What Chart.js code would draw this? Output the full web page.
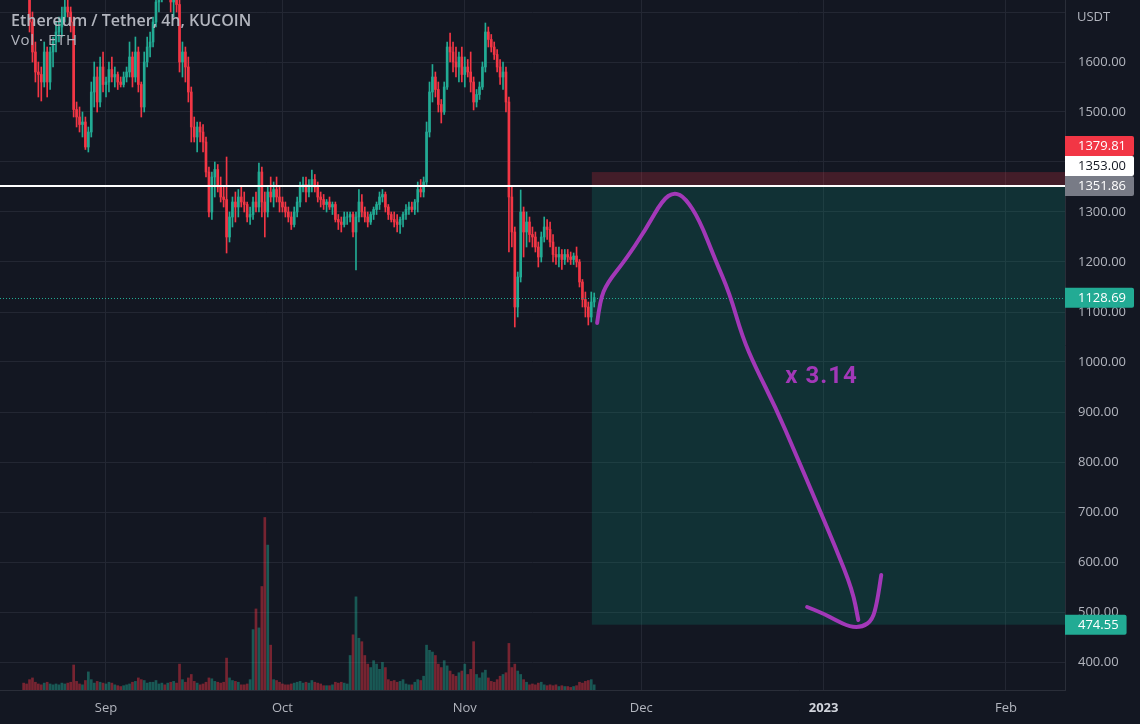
<!DOCTYPE html>
<html><head><meta charset="utf-8">
<script src="https://cdn.jsdelivr.net/npm/chart.js@4.4.0/dist/chart.umd.min.js"></script>
<style>html,body{margin:0;padding:0;background:#131722;overflow:hidden}</style>
</head><body>
<canvas id="c" width="1140" height="724"></canvas>
<script>
// ---- data (time in days from 1 Sep 2022, 12h candles) ----
const candleStart = -14;   // 18 Aug 2022 00:00
const opens = [
1880,1850,1845,1680,1620,1580,1575,1560,1620,1560,1620,1640,1660,1670,1690,1710,1700,1680,1505,1490,1475,1480,1430,1460,1540,1570,1520,1590,
1555,1560,1585,1570,1575,1560,1555,1570,1580,1610,1570,1620,1555,1510,1600,1630,1640,1680,1720,1740,1760,1750,1770,1720,1730,1715,1600,1620,1590,1540,1470,1450,1470,1460,1440,1380,1300,1370,1385,1350,1330,1325,1250,1290,1320,1310,1330,1320,1315,1290,1295,1320,1310,1380,1320,1300,1340,1330,1345,1330,
1320,1310,1300,1290,1275,1300,1320,1350,1355,1340,1355,1365,1350,1330,1325,1315,1320,1310,1315,1285,1280,1275,1290,1290,1295,1260,1290,1320,1300,1290,1280,1295,1305,1315,1330,1335,1310,1295,1285,1280,1275,1285,1295,1305,1310,1305,1320,1345,1340,1360,1460,1540,1570,1545,1515,1500,1550,1630,1620,1600,1590,1610,
1575,1590,1580,1560,1520,1535,1550,1590,1660,1645,1630,1615,1590,1570,1580,1520,1330,1260,1110,1170,1300,1260,1280,1255,1250,1230,1210,1250,1270,1265,1240,1215,1210,1215,1205,1215,1210,1205,1212,1200,1160,1125,1110,1090,1120];
const highs = [
1890,1870,1850,1700,1640,1600,1590,1640,1630,1630,1650,1680,1690,1710,1730,1740,1710,1690,1520,1510,1500,1490,1470,1560,1600,1590,1610,1620,
1570,1600,1610,1590,1580,1570,1580,1590,1640,1620,1650,1630,1560,1620,1650,1660,1690,1730,1760,1780,1780,1790,1780,1740,1760,1725,1640,1630,1610,1550,1490,1480,1480,1475,1450,1390,1380,1400,1395,1370,1350,1410,1300,1330,1340,1345,1350,1340,1320,1310,1330,1340,1398,1390,1340,1350,1370,1360,1370,1350,
1330,1320,1310,1300,1310,1330,1360,1370,1370,1365,1384,1375,1360,1340,1335,1325,1330,1320,1320,1295,1290,1300,1300,1300,1300,1300,1345,1335,1310,1300,1300,1310,1320,1340,1345,1340,1315,1300,1300,1295,1290,1300,1315,1320,1320,1325,1360,1365,1370,1480,1560,1595,1580,1560,1525,1560,1640,1658,1640,1630,1620,1630,
1610,1605,1620,1570,1545,1560,1600,1678,1670,1655,1640,1625,1605,1600,1590,1530,1350,1270,1180,1344,1310,1300,1290,1270,1260,1240,1260,1290,1285,1280,1255,1230,1230,1225,1225,1225,1220,1218,1230,1205,1165,1140,1120,1140,1138];
const lows = [
1840,1830,1660,1600,1560,1530,1522,1550,1530,1545,1590,1620,1640,1650,1680,1690,1660,1490,1470,1460,1450,1425,1420,1450,1510,1500,1510,1540,
1530,1540,1560,1550,1545,1550,1550,1560,1570,1550,1560,1540,1490,1500,1590,1610,1630,1670,1700,1720,1730,1740,1700,1690,1700,1580,1570,1560,1520,1440,1440,1420,1440,1420,1370,1290,1285,1330,1340,1320,1310,1218,1240,1270,1280,1290,1310,1300,1280,1275,1285,1300,1300,1290,1250,1290,1320,1310,1320,1300,
1300,1290,1280,1265,1270,1290,1310,1340,1320,1330,1340,1340,1320,1310,1305,1300,1305,1295,1280,1265,1260,1270,1275,1280,1250,1184,1280,1290,1280,1270,1275,1285,1295,1305,1320,1300,1285,1280,1270,1260,1257,1270,1285,1295,1300,1295,1300,1330,1330,1355,1450,1520,1530,1500,1478,1495,1545,1600,1580,1570,1560,1560,
1550,1570,1540,1504,1510,1525,1545,1580,1630,1620,1605,1580,1555,1545,1500,1220,1230,1070,1090,1160,1210,1230,1240,1230,1220,1190,1200,1240,1245,1230,1200,1195,1190,1185,1195,1200,1195,1195,1190,1150,1110,1090,1074,1080,1110];
const closes = [
1850,1845,1680,1620,1580,1575,1560,1620,1560,1620,1640,1660,1670,1690,1710,1700,1680,1505,1490,1475,1480,1430,1460,1540,1570,1520,1590,1555,
1560,1585,1570,1575,1560,1555,1570,1580,1610,1570,1620,1555,1510,1600,1630,1640,1680,1720,1740,1760,1750,1770,1720,1730,1715,1600,1620,1590,1540,1470,1450,1470,1460,1440,1380,1300,1370,1385,1350,1330,1325,1250,1290,1320,1310,1330,1320,1315,1290,1295,1320,1310,1380,1320,1300,1340,1330,1345,1330,1320,
1310,1300,1290,1275,1300,1320,1350,1355,1340,1355,1365,1350,1330,1325,1315,1320,1310,1315,1285,1280,1275,1290,1290,1295,1260,1290,1320,1300,1290,1280,1295,1305,1315,1330,1335,1310,1295,1285,1280,1275,1285,1295,1305,1310,1305,1320,1345,1340,1360,1460,1540,1570,1545,1515,1500,1550,1630,1620,1600,1590,1610,1575,
1590,1580,1560,1520,1535,1550,1590,1660,1645,1630,1615,1590,1570,1580,1520,1330,1260,1110,1170,1300,1260,1280,1255,1250,1230,1210,1250,1270,1265,1240,1215,1210,1215,1205,1215,1210,1205,1212,1200,1160,1125,1110,1090,1120,1128.69];
const volumes = [
40,35,60,70,45,35,30,40,45,35,30,35,30,40,35,40,45,145,50,35,30,55,105,60,40,50,45,40,
35,45,40,30,25,20,25,30,35,45,50,70,60,55,40,45,45,55,35,40,30,40,45,50,40,150,60,45,70,90,50,40,30,35,45,70,65,50,45,40,45,185,70,55,50,45,30,30,35,60,350,470,360,600,1000,840,260,60,55,45,
35,30,30,35,40,45,50,40,45,40,55,45,40,35,25,25,25,30,45,40,45,40,35,200,320,540,300,280,200,150,130,170,150,120,160,130,60,50,55,45,50,60,35,30,30,45,60,55,80,260,230,220,200,150,130,170,140,110,90,80,100,110,
150,90,120,280,90,70,100,115,70,50,45,60,80,90,100,270,130,150,110,90,60,45,30,35,30,40,45,30,25,30,25,30,20,25,20,20,15,20,25,45,40,50,55,60,30];

// axis ticks
const priceTicks = [400,500,600,700,800,900,1000,1100,1200,1300,1400,1500,1600,1700];
const monthTicks = [0,30,61,91,122,153];
const monthLabels = ['Sep','Oct','Nov','Dec','2023','Feb'];

// position tool (short) and levels
const entryTime = 82.6;
const stopPrice = 1379.81;
const entryPrice = 1353.00;
const targetPrice = 474.55;
const hLinePrice = 1351.86;
const lastPrice = 1128.69;

// hand-drawn arrow (days, price)
const curveT = [83.5,84.0,85.2,88.3,91.7,94.6,96.6,98.5,100.9,103.6,106.0,108.2,110.4,113.8,117.2,120.6,124.0,126.9,127.9];
const curveP = [1078,1124,1158,1204,1264,1324,1340,1328,1284,1204,1138,1050,990,910,818,724,630,544,484];
const hookT = [119.2,121.8,124.0,126.5,128.6,130.3,131.1,131.8];
const hookP = [510,498,484,470,470,484,520,574];
const noteText = 'x 3.14';
const noteT = 115.5, noteP = 970;

// ---- chart ----
const UP = '#22ab94', DOWN = '#f23645';
const TXT = '#b2b5be', GRID = '#232733', FONT = '"Open Sans"';
const times = opens.map((_, i) => candleStart + i * 0.5);
const isUp = i => i === undefined || closes[i] >= opens[i];

const overlay = {
  id: 'overlay',
  beforeDatasetsDraw(chart) {
    const {ctx, chartArea: a, scales: {x, y}} = chart;
    const x0 = x.getPixelForValue(entryTime), x1 = a.right;
    const ys = y.getPixelForValue(stopPrice), ye = y.getPixelForValue(entryPrice), yt = y.getPixelForValue(targetPrice);
    ctx.save();
    ctx.fillStyle = 'rgba(242,54,69,0.22)';
    ctx.fillRect(x0, ys, x1 - x0, ye - ys);
    ctx.fillStyle = 'rgba(8,153,129,0.2)';
    ctx.fillRect(x0, ye, x1 - x0, yt - ye);
    ctx.restore();
  },
  afterDatasetsDraw(chart) {
    const {ctx, chartArea: a, scales: {x, y}} = chart;
    ctx.save();
    const yl = Math.round(y.getPixelForValue(lastPrice)) + 0.5;
    ctx.strokeStyle = UP; ctx.lineWidth = 1; ctx.setLineDash([1, 2]);
    ctx.beginPath(); ctx.moveTo(a.left, yl); ctx.lineTo(a.right, yl); ctx.stroke();
    ctx.setLineDash([]);
    const yh = y.getPixelForValue(hLinePrice);
    ctx.strokeStyle = '#ffffff'; ctx.lineWidth = 2;
    ctx.beginPath(); ctx.moveTo(a.left, yh); ctx.lineTo(a.right, yh); ctx.stroke();
    const PURPLE = '#a238b8';
    ctx.strokeStyle = PURPLE; ctx.lineWidth = 4; ctx.lineCap = 'round'; ctx.lineJoin = 'round';
    const smooth = (ts, ps) => {
      const pts = ts.map((t, i) => [x.getPixelForValue(t), y.getPixelForValue(ps[i])]);
      ctx.beginPath(); ctx.moveTo(pts[0][0], pts[0][1]);
      for (let i = 1; i < pts.length - 1; i++) {
        const mx = (pts[i][0] + pts[i + 1][0]) / 2, my = (pts[i][1] + pts[i + 1][1]) / 2;
        ctx.quadraticCurveTo(pts[i][0], pts[i][1], mx, my);
      }
      const l = pts[pts.length - 1]; ctx.lineTo(l[0], l[1]); ctx.stroke();
    };
    smooth(curveT, curveP);
    smooth(hookT, hookP);
    ctx.fillStyle = PURPLE; ctx.font = `bold 24px Roboto`;
    ctx.textBaseline = 'middle'; ctx.textAlign = 'left';
    ctx.letterSpacing = '1px';
    ctx.fillText(noteText, x.getPixelForValue(noteT), y.getPixelForValue(noteP));
    ctx.restore();
  },
  afterDraw(chart) {
    const {ctx, chartArea: a, scales: {y}} = chart;
    ctx.save();
    ctx.textBaseline = 'middle'; ctx.textAlign = 'left';
    ctx.fillStyle = TXT; ctx.font = `600 16px ${FONT}`;
    ctx.letterSpacing = '0px';
    ctx.fillText('Ethereum / Tether, 4h, KUCOIN', 11, 21);
    ctx.font = `15px ${FONT}`;
    ctx.letterSpacing = '0.6px';
    ctx.fillText('Vol · ETH', 11, 41);
    ctx.letterSpacing = '0px';
    ctx.font = `13px ${FONT}`;
    ctx.fillText('USDT', 1077, 17);
    const labels = [
      {v: stopPrice, bg: DOWN, fg: '#ffffff'},
      {v: entryPrice, bg: '#ffffff', fg: '#131722'},
      {v: hLinePrice, bg: '#787b86', fg: '#ffffff'},
      {v: lastPrice, bg: UP, fg: '#ffffff'},
      {v: targetPrice, bg: UP, fg: '#ffffff'}
    ].map(l => ({...l, py: y.getPixelForValue(l.v)}));
    labels.sort((p, q) => q.py - p.py);
    let prev = Infinity;
    labels.forEach(l => { l.cy = Math.min(l.py, prev - 20); prev = l.cy; });
    labels.forEach(l => {
      const txt = l.v.toFixed(2);
      const w = ctx.measureText(txt).width + 21;
      ctx.fillStyle = l.bg;
      ctx.beginPath();
      ctx.roundRect(a.right, l.cy - 10, w, 20, [0, 2, 2, 0]);
      ctx.fill();
      ctx.fillStyle = l.fg;
      ctx.fillText(txt, a.right + 13, l.cy + 0.5);
    });
    ctx.restore();
  }
};

Chart.defaults.font.family = FONT;
new Chart(document.getElementById('c'), {
  type: 'bar',
  data: {
    datasets: [
      { label: 'Vol', yAxisID: 'yv', order: 3, grouped: false, barThickness: 2, borderWidth: 0,
        data: volumes.map((v, i) => ({x: times[i], y: v})),
        backgroundColor: c => isUp(c.dataIndex) ? 'rgba(34,171,148,0.45)' : 'rgba(242,54,69,0.45)' },
      { label: 'wick', yAxisID: 'y', order: 2, grouped: false, barThickness: 1, borderWidth: 0,
        data: highs.map((h, i) => ({x: times[i], y: [lows[i], h]})),
        backgroundColor: c => isUp(c.dataIndex) ? UP : DOWN },
      { label: 'body', yAxisID: 'y', order: 1, grouped: false, barThickness: 2, borderWidth: 0,
        data: opens.map((o, i) => ({x: times[i], y: [o, closes[i]]})),
        backgroundColor: c => isUp(c.dataIndex) ? UP : DOWN }
    ]
  },
  options: {
    responsive: false, animation: false, events: [],
    layout: {padding: 0},
    plugins: {legend: {display: false}, tooltip: {enabled: false}},
    scales: {
      x: {
        type: 'linear', min: -18.02, max: 163.04, offset: false,
        grid: {color: GRID, drawTicks: false, offset: false},
        border: {display: true, color: '#2a2e39'},
        afterBuildTicks: ax => { ax.ticks = monthTicks.map(v => ({value: v})); },
        afterFit: ax => { ax.height = 34; ax.paddingLeft = 0; ax.paddingRight = 0; },
        ticks: {
          padding: 10, color: c => (c.index === 4 ? '#d1d4dc' : TXT), autoSkip: false, maxRotation: 0,
          font: c => ({family: FONT, size: 13, weight: c.index === 4 ? 'bold' : 'normal'}),
          callback: (v) => monthLabels[monthTicks.indexOf(v)]
        }
      },
      y: {
        position: 'right', min: 344, max: 1724,
        grid: {color: GRID, drawTicks: false},
        border: {display: true, color: '#2a2e39'},
        afterBuildTicks: ax => { ax.ticks = priceTicks.map(v => ({value: v})); },
        afterFit: ax => { ax.width = 75; ax.paddingTop = 0; ax.paddingBottom = 0; },
        ticks: {padding: 13, color: TXT, font: {family: FONT, size: 13},
          callback: v => (v === 1700 ? '' : v.toFixed(2))}
      },
      yv: {display: false, min: 0, max: 4000}
    }
  },
  plugins: [overlay]
});
</script>
</body></html>
